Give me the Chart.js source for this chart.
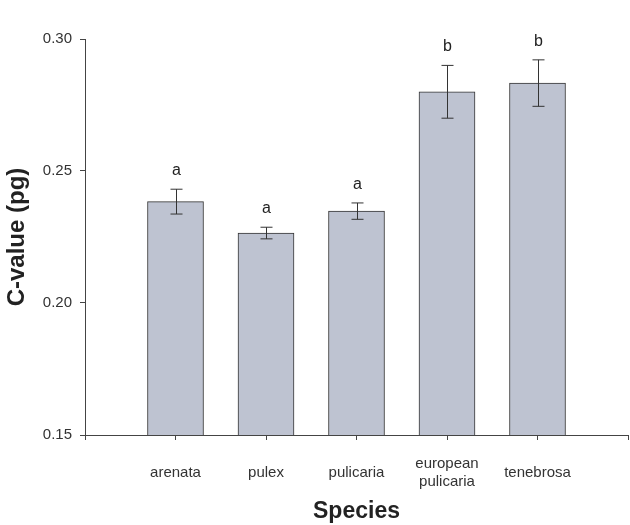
<!DOCTYPE html>
<html>
<head>
<meta charset="utf-8">
<script src="https://cdn.jsdelivr.net/npm/chart.js@4"></script>
<style>
  body { margin: 0; background: #fff; }
  #wrap { width: 630px; height: 525px; }
</style>
</head>
<body>
<div id="wrap"><canvas id="myChart" width="630" height="525"></canvas></div>
<script>
// blank slots at each end so bars sit on ticks 1..5
const species = ["", "arenata", "pulex", "pulicaria", ["european", "pulicaria"], "tenebrosa", ""];
const cValues = [null, 0.2384, 0.2265, 0.2348, 0.2800, 0.2833, null];
const errors = [null, 0.0047, 0.0022, 0.0031, 0.0100, 0.0088, null];
const groups = ["", "a", "a", "a", "b", "b", ""];
const yTicks = [0.15, 0.2, 0.25, 0.3];

const axisColor = "#444";
const font = "'Liberation Sans', Arial, sans-serif";

// error bars + significance letters
const errorBars = {
  id: "errorBars",
  afterDatasetsDraw(chart) {
    const ctx = chart.ctx;
    const x = chart.scales.x;
    const y = chart.scales.y;
    ctx.save();
    ctx.strokeStyle = "#333";
    ctx.lineWidth = 1;
    ctx.fillStyle = "#222";
    ctx.font = "16px " + font;
    ctx.textAlign = "center";
    ctx.textBaseline = "alphabetic";
    cValues.forEach((v, i) => {
      if (v == null) return;
      const px = Math.round(x.getPixelForValue(i)) + 0.5;
      const top = y.getPixelForValue(v + errors[i]);
      const bot = y.getPixelForValue(v - errors[i]);
      ctx.beginPath();
      ctx.moveTo(px, top);
      ctx.lineTo(px, bot);
      ctx.moveTo(px - 6, top);
      ctx.lineTo(px + 6, top);
      ctx.moveTo(px - 6, bot);
      ctx.lineTo(px + 6, bot);
      ctx.stroke();
      ctx.fillText(groups[i], px, top - 14);
    });
    ctx.restore();
  },
};

const data = {
  labels: species,
  datasets: [
    {
      data: cValues,
      backgroundColor: "#bec3d1",
      borderColor: "#333",
      borderWidth: { top: 1, left: 1, right: 1, bottom: 0 },
      barThickness: 56,
      borderSkipped: "bottom",
    },
  ],
};

const config = {
  type: "bar",
  data,
  options: {
    responsive: false,
    animation: false,
    layout: { padding: { top: 39, right: 2, left: 0, bottom: 0 } },
    plugins: {
      legend: { display: false },
      tooltip: { enabled: false },
    },
    scales: {
      x: {
        offset: false,
        afterFit: (scale) => {
          scale.height = 90;
          scale.paddingLeft = 0;
          scale.paddingRight = 0;
        },
        grid: { display: true, drawOnChartArea: false, offset: false, tickLength: 5, color: axisColor },
        border: { color: axisColor },
        ticks: {
          color: "#333",
          font: { family: font, size: 15 },
          maxRotation: 0,
          autoSkip: false,
          crossAlign: "center",
          padding: 24,
        },
        title: {
          display: true,
          text: "Species",
          color: "#222",
          font: { family: font, size: 23, weight: "bold" },
          padding: { top: 0, bottom: 0 },
        },
      },
      y: {
        min: 0.15,
        max: 0.3,
        afterFit: (scale) => {
          scale.width = 85;
        },
        afterBuildTicks: (scale) => {
          scale.ticks = yTicks.map((v) => ({ value: v }));
        },
        grid: { display: true, drawOnChartArea: false, tickLength: 5, color: axisColor },
        border: { color: axisColor },
        ticks: {
          color: "#333",
          font: { family: font, size: 15 },
          padding: 8,
          callback: (v) => v.toFixed(2),
        },
        title: {
          display: true,
          text: "C-value (pg)",
          color: "#222",
          font: { family: font, size: 24, weight: "bold" },
          padding: { top: 3, bottom: 0 },
        },
      },
    },
  },
  plugins: [errorBars],
};

const myChart = new Chart(document.getElementById("myChart"), config);
</script>
</body>
</html>
